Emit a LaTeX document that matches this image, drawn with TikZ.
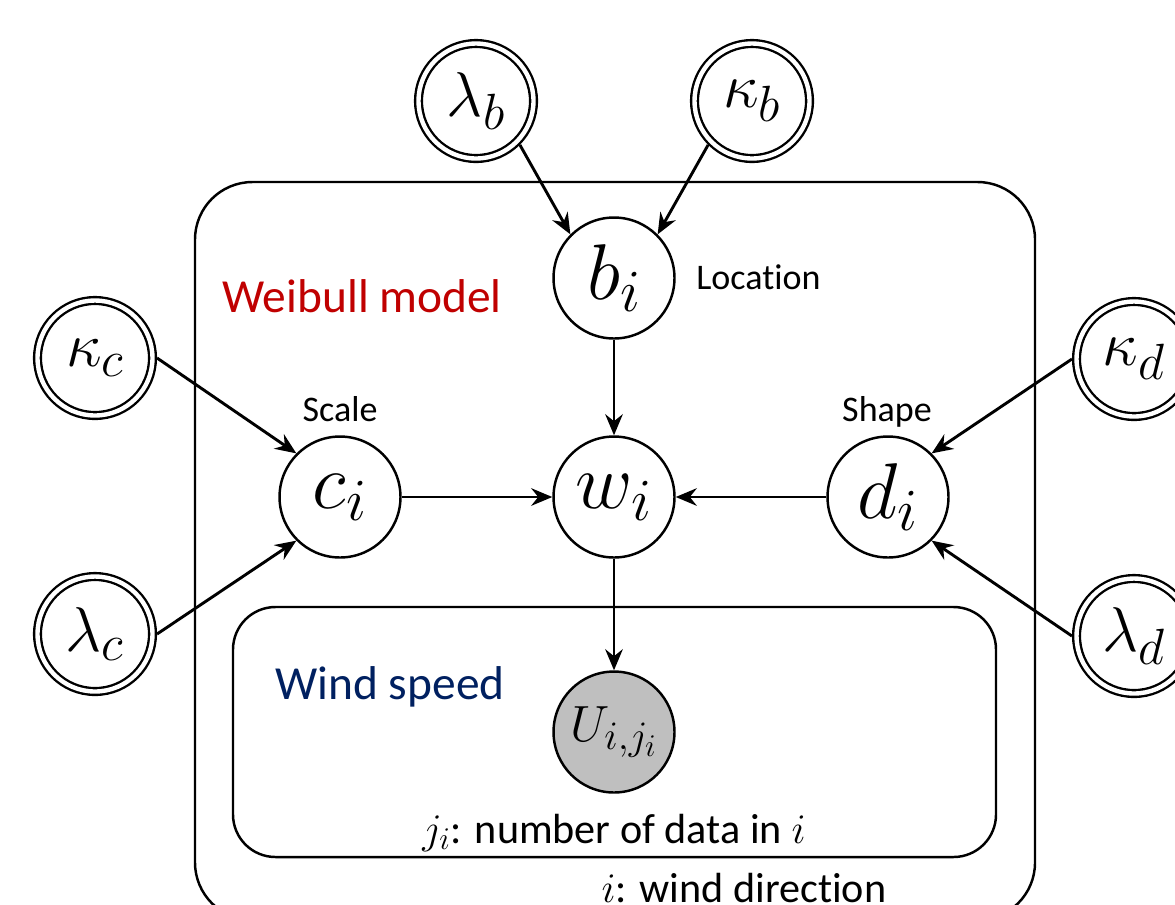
\RequirePackage{fix-cm}
\documentclass[tikz,border=0pt]{standalone}
\usepackage{fontspec}
\setmainfont{Carlito}[Ligatures=NoCommon]
\usetikzlibrary{arrows.meta}
\DeclareMathSizes{45}{45}{34}{27}
\DeclareMathSizes{36}{36}{29}{22}
\DeclareMathSizes{29}{29}{23}{18}
\DeclareMathSizes{24}{24}{18}{14}
\definecolor{wred}{HTML}{C00000}
\definecolor{wblue}{HTML}{002060}
\definecolor{obsgray}{HTML}{BFBFBF}
\tikzset{
  hyper/.style={circle, draw, double, double distance=2.5pt, line width=1.35pt,
    minimum size=2.3cm, inner sep=0pt, outer sep=2.6pt, font=\fontsize{36}{42}\selectfont},
  latent/.style={circle, draw, line width=1.4pt, fill=white,
    minimum size=2.42cm, inner sep=0pt, font=\fontsize{45}{50}\selectfont},
  obs/.style={latent, fill=obsgray, font=\fontsize{29}{32}\selectfont},
  edge/.style={line width=1.65pt, -{Stealth[length=12pt, width=10pt, inset=4pt]}},
  plate/.style={line width=1.4pt},
  lab/.style={inner sep=0pt, font=\fontsize{20.5}{24}\selectfont},
  ttl/.style={inner sep=0pt, font=\fontsize{27}{32}\selectfont},
  foot/.style={inner sep=0pt, font=\fontsize{24}{28}\selectfont, anchor=base}
}
\begin{document}
\begin{tikzpicture}[x=0.02cm, y=-0.02cm]
\useasboundingbox (0,0) rectangle (1175,904);
\clip (0,0) rectangle (1175,904);
% plates
\draw[plate, rounded corners=1.15cm] (195,182) rectangle (1035,920);
\draw[plate, rounded corners=0.85cm] (233,607) rectangle (996,857);
% nodes
\node[hyper] (lb) at (476,101) {$\lambda_b$};
\node[hyper] (kb) at (752,101) {$\kappa_b$};
\node[hyper] (kc) at (95,358) {$\kappa_c$};
\node[hyper] (lc) at (95,634) {$\lambda_c$};
\node[hyper] (kd) at (1134,359) {$\kappa_d$};
\node[hyper] (ld) at (1134,636) {$\lambda_d$};
\node[latent] (b) at (614,278) {$b_i$};
\node[latent] (w) at (614,497) {$w_i$};
\node[latent] (c) at (340,497) {$c_i$};
\node[latent] (d) at (888,497) {$d_i$};
\node[obs] (U) at (614,732) {$U_{i,j_i}$};
% edges
\draw[edge] (lb.-45) -- (b.135);
\draw[edge] (kb.-135) -- (b.45);
\draw[edge] (b) -- (w);
\draw[edge] (c) -- (w);
\draw[edge] (d) -- (w);
\draw[edge] (w) -- (U);
\draw[edge] (kc.east) -- (c.135);
\draw[edge] (lc.east) -- (c.-135);
\draw[edge] (kd.west) -- (d.45);
\draw[edge] (ld.west) -- (d.-45);
% labels
\node[lab, anchor=base west] (loc) at (696,289) {Location};
\node[lab, anchor=base] (scl) at (340,421) {Scale};
\node[lab, anchor=base] (shp) at (887,421) {Shape};
\node[ttl, text=wred, anchor=base west] (wm) at (222,312) {Weibull model};
\node[ttl, text=wblue, anchor=base west] (ws) at (275,699) {Wind speed};
\node[foot] (nd) at (614,843) {$j_i$: number of data in $i$};
\node[foot] (wd) at (744,902) {$i$: wind direction};
\end{tikzpicture}
\end{document}
